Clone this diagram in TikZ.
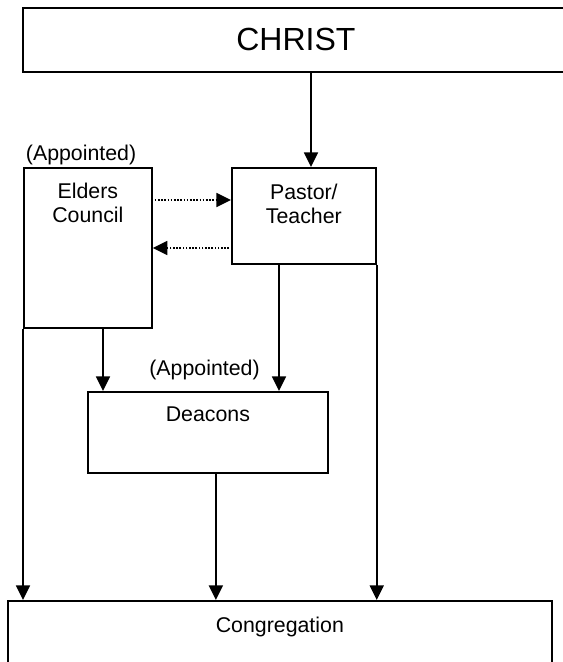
\documentclass[tikz,border=0pt]{standalone}
\usepackage{fontspec}
\setmainfont{Liberation Sans}
\usetikzlibrary{arrows.meta,positioning,calc}
\tikzset{
	block/.style = {draw, rectangle, line width=1.3pt, anchor=north west, inner sep=0pt},
	txt/.style = {inner sep=0pt, align=center, font=\fontsize{16pt}{18pt}\selectfont},
	link/.style = {->, line width=1.3pt},
	hint/.style = {->, line width=1.3pt, dash pattern=on 1.2pt off 1.2pt}
}

\begin{document}
\begin{tikzpicture}[x=0.75pt, y=-0.75pt, >={Triangle[length=11pt,width=10.5pt]}]
\useasboundingbox (0,0) rectangle (563,662);
\clip (0,0) rectangle (563,662);

% boxes
\node [block, minimum width=409.5pt, minimum height=48pt, font=\fontsize{24pt}{28pt}\selectfont] (christ) at (22,7) {CHRIST};
\node [block, minimum width=96pt, minimum height=120pt] (elders) at (23,167) {};
\node [block, minimum width=108pt, minimum height=72pt] (pastor) at (231,167) {};
\node [block, minimum width=180pt, minimum height=60.75pt] (deacons) at (87,391) {};
\node [block, minimum width=408pt, minimum height=60pt] (congregation) at (7,600) {};

% texts
\node [txt, below=12pt of elders.north] (elderstxt) {Elders\\Council};
\node [txt, below=12.5pt of pastor.north] (pastortxt) {Pastor/\\Teacher};
\node [txt, below=12pt of deacons.north] (deaconstxt) {Deacons};
\node [txt, below=12.5pt of congregation.north] (congtxt) {Congregation};
\node [txt, anchor=south west, xshift=2pt, yshift=1pt] (appel) at (elders.north west) {(Appointed)};
\node [txt, above=8pt of deacons.north, xshift=-2.5pt] (appdea) {(Appointed)};

% connectors
\coordinate (cp) at ($(pastor.north west)+(80,0)$);
\draw [link] (christ.south -| cp) -- (cp);

\draw [hint] ($(elders.north east)+(2,33)$) -- ($(pastor.north west)+(0,33)$);
\draw [hint] ($(pastor.north west)+(-2,81)$) -- ($(elders.north east)+(0,81)$);

\coordinate (ed) at ($(deacons.north west)+(16,0)$);
\draw [link] (elders.south -| ed) -- (ed);
\coordinate (pd) at ($(pastor.south west)+(48,0)$);
\draw [link] (pd) -- (deacons.north -| pd);

\draw [link] (elders.south west) -- (elders.south west |- congregation.north);
\coordinate (dc) at ($(deacons.south)+(8,0)$);
\draw [link] (dc) -- (congregation.north -| dc);
\draw [link] (pastor.south east) -- (pastor.south east |- congregation.north);
\end{tikzpicture}
\end{document}
